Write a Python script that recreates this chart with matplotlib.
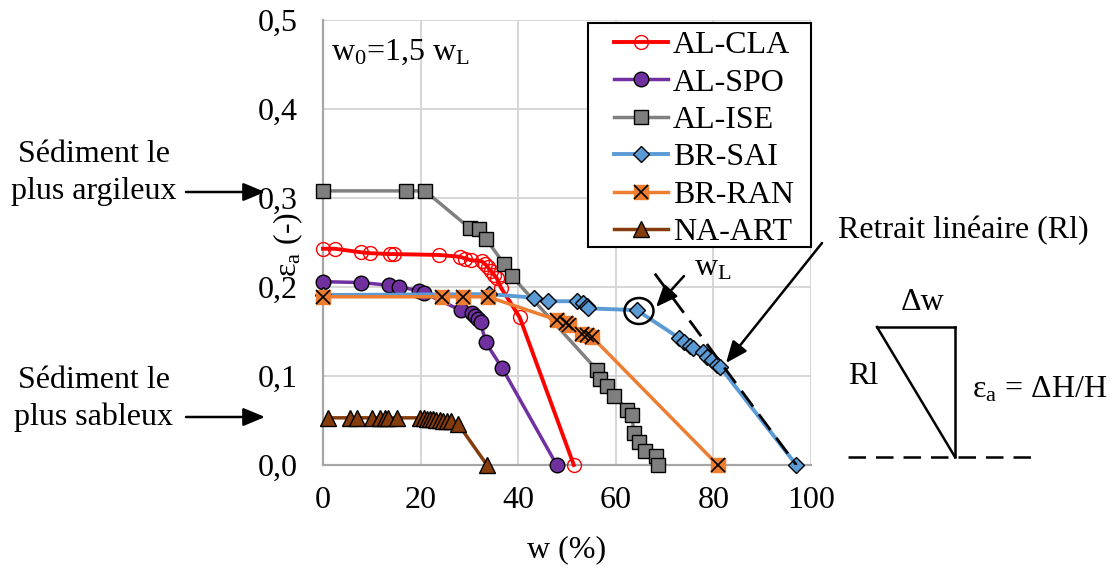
import matplotlib
matplotlib.use("Agg")
import matplotlib.pyplot as plt
from matplotlib.lines import Line2D
from matplotlib.patches import Rectangle, Ellipse

# Données : w (%) et epsilon_a (-)
al_cla_w = [0, 2.4, 7.8, 9.6, 13.7, 14.5, 23.7, 28.0, 29.2, 30.4, 32.5, 33.2, 33.8,
            34.4, 35.0, 35.6, 36.5, 40.3, 51.4]
al_cla_e = [0.243, 0.243, 0.239, 0.238, 0.237, 0.237, 0.236, 0.234, 0.232, 0.230, 0.229,
            0.226, 0.222, 0.218, 0.214, 0.210, 0.199, 0.166, 0.0]

al_spo_w = [0, 7.8, 13.5, 15.5, 19.7, 20.7, 28.2, 30.5, 31.1, 31.7, 32.3, 33.3, 36.7, 47.9]
al_spo_e = [0.206, 0.205, 0.202, 0.200, 0.196, 0.193, 0.174, 0.171, 0.167, 0.164, 0.161,
            0.138, 0.109, 0.0]

al_ise_w = [0, 17.0, 20.9, 30.1, 32.0, 33.4, 37.1, 38.7, 56.1, 56.8, 58.2, 59.6, 62.3,
            63.3, 63.7, 64.8, 66.0, 68.2, 68.6]
al_ise_e = [0.308, 0.308, 0.308, 0.266, 0.265, 0.254, 0.226, 0.212, 0.107, 0.097, 0.089,
            0.078, 0.062, 0.056, 0.036, 0.026, 0.016, 0.010, 0.0]

br_sai_w = [0, 34.0, 43.2, 46.1, 52.0, 53.3, 54.1, 54.3, 64.3, 72.9, 74.0, 75.2, 75.8,
            77.9, 78.7, 79.7, 80.7, 81.4, 97.0]
br_sai_e = [0.191, 0.192, 0.188, 0.184, 0.184, 0.182, 0.179, 0.176, 0.174, 0.143, 0.138,
            0.134, 0.131, 0.127, 0.121, 0.118, 0.112, 0.110, 0.0]

br_ran_w = [0, 24.4, 28.7, 33.8, 47.9, 49.8, 50.4, 53.1, 54.1, 55.1, 80.9]
br_ran_e = [0.189, 0.189, 0.189, 0.189, 0.163, 0.160, 0.157, 0.147, 0.146, 0.144, 0.0]

na_art_w = [1.0, 5.5, 6.9, 10.1, 11.7, 12.7, 13.3, 15.2, 19.9, 20.6, 21.3, 22.0, 22.6,
            23.2, 23.9, 24.6, 25.4, 26.3, 27.7, 33.6]
na_art_e = [0.053, 0.053, 0.053, 0.053, 0.053, 0.053, 0.053, 0.053, 0.053, 0.053, 0.052,
            0.052, 0.052, 0.051, 0.051, 0.050, 0.050, 0.049, 0.046, 0.0]

# Tangente pour le retrait linéaire
tangente_w = [68.0, 97.0]
tangente_e = [0.215, 0.0]

x_ticks = [0, 20, 40, 60, 80, 100]
y_ticks = [0.0, 0.1, 0.2, 0.3, 0.4, 0.5]

W, H = 1110, 568
FS = 23

plt.rcParams['font.family'] = ['Liberation Serif', 'DejaVu Serif']
plt.rcParams['mathtext.fontset'] = 'custom'
plt.rcParams['mathtext.rm'] = 'Liberation Serif'
plt.rcParams['mathtext.it'] = 'Liberation Serif:italic'
plt.rcParams['mathtext.default'] = 'regular'
plt.rcParams['font.size'] = FS


def fx(x):
    return x / W


def fy(y):
    return 1 - y / H


fig = plt.figure(figsize=(W / 100, H / 100), dpi=100)
ax = fig.add_axes([fx(323), fy(465), (811 - 323) / W, (465 - 20) / H])

h_cla, = ax.plot(al_cla_w, al_cla_e, color='#ff0000', lw=2.8, marker='o', ms=10,
                 mfc='none', mec='#ff0000', mew=1.0, clip_on=False, zorder=3)
h_spo, = ax.plot(al_spo_w, al_spo_e, color='#7030a0', lw=2.5, marker='o', ms=10.5,
                 mfc='#7030a0', mec='black', mew=1.0, clip_on=False, zorder=3)
h_ise, = ax.plot(al_ise_w, al_ise_e, color='#808080', lw=2.5, marker='s', ms=10.5,
                 mfc='#7f7f7f', mec='black', mew=1.0, clip_on=False, zorder=3)
h_sai, = ax.plot(br_sai_w, br_sai_e, color='#5b9bd5', lw=2.8, marker='D', ms=8,
                 mfc='#5b9bd5', mec='black', mew=1.0, clip_on=False, zorder=3)
h_ran, = ax.plot(br_ran_w, br_ran_e, color='#ed7d31', lw=2.5, marker='s', ms=10.5,
                 mfc='#ed7d31', mec='#ed7d31', mew=1.0, clip_on=False, zorder=3)
h_ranx, = ax.plot(br_ran_w, br_ran_e, ls='none', marker='x', ms=10.5, mec='black',
                  mew=1.2, clip_on=False, zorder=3)
h_art, = ax.plot(na_art_w, na_art_e, color='#843c0c', lw=2.5, marker='^', ms=11,
                 mfc='#843c0c', mec='black', mew=1.0, clip_on=False, zorder=3)

ax.plot(tangente_w, tangente_e, color='black', lw=2, dashes=(7, 3.5), zorder=4)

ax.set_xlim(0, 100)
ax.set_ylim(0, 0.5)
ax.set_xticks(x_ticks)
ax.set_yticks(y_ticks)
ax.set_xticklabels([str(v) for v in x_ticks])
ax.set_yticklabels([f"{v:.1f}".replace('.', ',') for v in y_ticks])
ax.tick_params(length=0, labelsize=FS)
ax.tick_params(axis='y', pad=18)
ax.tick_params(axis='x', pad=15)
ax.grid(True, color='#d3d3d3', lw=1.3, zorder=0)
ax.set_axisbelow(True)
for s in ['top', 'right']:
    ax.spines[s].set_visible(False)
for s in ['left', 'bottom']:
    ax.spines[s].set_color('#a6a6a6')
    ax.spines[s].set_linewidth(1.6)

# Titres des axes
fig.text(fx(567), fy(550), 'w (%)', ha='center', va='center', fontsize=FS)
fig.text(fx(288), fy(245), r'ε$_a$ (-)', ha='center', va='center', rotation=90,
         fontsize=FS)

fig.text(fx(331), fy(52), r'w$_0$=1,5 w$_L$', ha='left', va='center', fontsize=FS)

# Légende avec cadre dessiné à la main
fig.add_artist(Rectangle((fx(588), fy(247)), 223 / W, 224 / H, transform=fig.transFigure,
                         facecolor='white', edgecolor='black', lw=1.5, zorder=4))
fig.legend([h_cla, h_spo, h_ise, h_sai, (h_ran, h_ranx), h_art],
           ['AL-CLA', 'AL-SPO', 'AL-ISE', 'BR-SAI', 'BR-RAN', 'NA-ART'],
           loc='upper left', bbox_to_anchor=(fx(598), fy(15)), frameon=False,
           borderpad=0, handlelength=1.7, handletextpad=0.15, labelspacing=0.25,
           fontsize=FS).set_zorder(5)

# Annotations à gauche
for txt, y in [('Sédiment le', 155), ('plus argileux', 192),
               ('Sédiment le', 380), ('plus sableux', 417)]:
    fig.text(fx(94), fy(y), txt, ha='center', va='center', fontsize=FS)

arrow = dict(arrowstyle='-|>,head_length=0.6,head_width=0.25', color='black', lw=1.8,
             mutation_scale=22, shrinkA=0, shrinkB=0)
for y in [192, 417]:
    ax.annotate('', xy=(265, H - y), xytext=(186, H - y), xycoords='figure pixels',
                textcoords='figure pixels', arrowprops=arrow, annotation_clip=False)

# Limite de liquidité
ax.annotate('', xy=(656, H - 307), xytext=(684, H - 276), xycoords='figure pixels',
            textcoords='figure pixels', arrowprops=arrow, annotation_clip=False)
fig.text(fx(713), fy(268), r'w$_L$', ha='center', va='center', fontsize=FS)
fig.add_artist(Ellipse((fx(639), fy(311)), 29 / W, 26 / H, transform=fig.transFigure,
                       fill=False, edgecolor='black', lw=1.8, zorder=6))

# Retrait linéaire
ax.annotate('', xy=(726, H - 363), xytext=(822, H - 243), xycoords='figure pixels',
            textcoords='figure pixels', arrowprops=arrow, annotation_clip=False)
fig.text(fx(838), fy(231), 'Retrait linéaire (Rl)', ha='left', va='center', fontsize=FS)

# Schéma du triangle
for (x0, y0), (x1, y1) in [((877, 327), (955, 327)), ((955, 327), (955, 457)),
                           ((877, 327), (955, 457))]:
    fig.add_artist(Line2D([fx(x0), fx(x1)], [fy(y0), fy(y1)], transform=fig.transFigure,
                          color='black', lw=1.8))
fig.add_artist(Line2D([fx(848), fx(1033)], [fy(457), fy(457)], transform=fig.transFigure,
                      color='black', lw=1.8, dashes=(7, 4)))
fig.text(fx(923), fy(302), 'Δw', ha='center', va='center', fontsize=FS)
fig.text(fx(863), fy(377), 'Rl', ha='center', va='center', fontsize=FS)
fig.text(fx(972), fy(390), r'ε$_a$ = ΔH/H', ha='left', va='center', fontsize=FS)

fig.savefig('out.png', dpi=100)
